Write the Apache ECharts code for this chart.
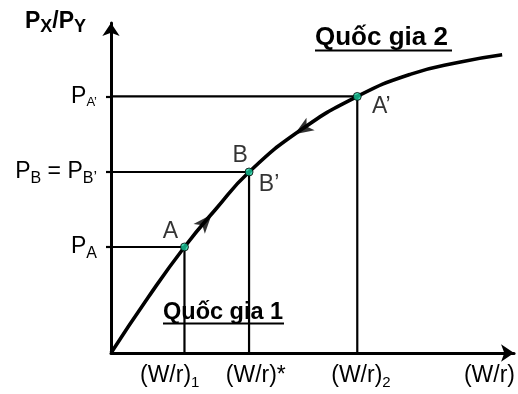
<!DOCTYPE html>
<html><head><meta charset="utf-8">
<script src="https://cdn.jsdelivr.net/npm/echarts@6/dist/echarts.min.js"></script>
<style>html,body{margin:0;padding:0;background:#fff}#c{width:518px;height:394px}</style>
</head><body><div id="c"></div>
<script>
// Curve, in chart units
const curveX = [0, 9.26, 18.52, 26.5, 34.8, 47.8, 62.08, 75.6, 88.1, 98.6];
const curveY = [0, 17.0, 32.77, 44.6, 55.95, 68.9, 79.3, 86.2, 89.95, 92.2];
// Marked points A, B, A'
const pointNames = ['A', 'B', 'A’'];
const pointX = [18.52, 34.8, 62.08];
const pointY = [32.77, 55.95, 79.3];
const extraName = 'B’';
// Direction arrows on the curve
const arrowX = [23.8, 48.3];
const arrowY = [40.6, 69.2];
const arrowRotate = [-41, 123];
// Tick labels
const xTickValues = [14.8, 36.5, 63.0, 95.4];
const xTickLabels = ['(W/r){s|1}', '(W/r)*', '(W/r){s|2}', '(W/r)'];
const yTickValues = [32.77, 55.95, 79.3];
const yTickLabels = ['P{s|A}', 'P{s|B} = P{s|B’}', 'P{t|A’}'];
const yAxisTitle = 'P{s|X}/P{s|Y}';
const country1 = 'Quốc gia 1';
const country2 = 'Quốc gia 2';

const FF = '"Liberation Sans", Arial, Helvetica, sans-serif';
const ARROW = 'path://M0,16 L6,0 L12,16 L6,12 Z';
const chart = echarts.init(document.getElementById('c'));

const guideSeries = pointX.map((x, i) => ({
  type: 'line', silent: true, symbol: 'none', z: 2, animation: false,
  lineStyle: { color: '#000', width: 2.2 },
  data: [[0, pointY[i]], [x, pointY[i]], [x, 0]]
}));

chart.setOption({
  animation: false,
  title: {
    text: yAxisTitle, left: 25, top: 8, padding: 0,
    textStyle: {
      fontFamily: FF, fontWeight: 'bold', fontSize: 23, color: '#000',
      rich: { s: { fontFamily: FF, fontWeight: 'bold', fontSize: 18, color: '#000', padding: [10, 0, 0, 0] } }
    }
  },
  grid: { left: 111, right: 1, top: 23, bottom: 41 },
  xAxis: {
    type: 'value', min: 0, max: 101.6,
    axisLine: { show: true, symbol: ['none', 'arrow'], symbolSize: [13, 13], lineStyle: { color: '#000', width: 3 } },
    axisTick: { show: false },
    splitLine: { show: false },
    axisLabel: {
      customValues: xTickValues,
      formatter: v => xTickLabels[xTickValues.indexOf(v)],
      fontFamily: FF, fontSize: 23, color: '#000', margin: 8, lineHeight: 29,
      rich: { s: { fontFamily: FF, fontSize: 15, color: '#000', padding: [14, 0, 0, 0] } }
    }
  },
  yAxis: {
    type: 'value', min: 0, max: 102.0,
    axisLine: { show: true, symbol: ['none', 'arrow'], symbolSize: [13, 13], lineStyle: { color: '#000', width: 3 } },
    axisTick: { show: true, customValues: yTickValues, length: 5, lineStyle: { color: '#000', width: 2.2 } },
    splitLine: { show: false },
    axisLabel: {
      customValues: yTickValues,
      formatter: v => yTickLabels[yTickValues.indexOf(v)],
      fontFamily: FF, fontSize: 23, color: '#000', margin: 14, lineHeight: 29,
      rich: {
        s: { fontFamily: FF, fontSize: 16, color: '#000', padding: [14, 0, 0, 0] },
        t: { fontFamily: FF, fontSize: 13, color: '#000', padding: [12, 0, 0, 0] }
      }
    }
  },
  graphic: [
    { type: 'text', x: 315, y: 37.9, z: 10, style: { text: country2, font: 'bold 26px ' + FF, fill: '#000', verticalAlign: 'middle' } },
    { type: 'rect', shape: { x: 315, y: 49.5, width: 137, height: 2 }, style: { fill: '#000' } },
    { type: 'text', x: 163, y: 312.7, z: 10, style: { text: country1, font: 'bold 23.5px ' + FF, fill: '#000', verticalAlign: 'middle' } },
    { type: 'rect', shape: { x: 163, y: 322.5, width: 121, height: 2 }, style: { fill: '#000' } }
  ],
  series: [
    ...guideSeries,
    {
      type: 'line', smooth: 0.5, symbol: 'none', z: 3, silent: true,
      lineStyle: { color: '#000', width: 3.6 },
      data: curveX.map((x, i) => [x, curveY[i]])
    },
    {
      type: 'scatter', symbol: ARROW, symbolSize: [15, 19], z: 4, silent: true,
      itemStyle: { color: '#000' },
      data: arrowX.map((x, i) => ({ value: [x, arrowY[i]], symbolRotate: arrowRotate[i] }))
    },
    {
      type: 'scatter', symbolSize: 8, z: 5, silent: true,
      itemStyle: { color: '#17c99b', borderColor: '#000', borderWidth: 1 },
      label: { show: true, position: 'inside', fontFamily: FF, fontSize: 23, color: '#000', formatter: p => p.name },
      data: pointX.map((x, i) => ({
        name: pointNames[i], value: [x, pointY[i]],
        label: { offset: [[-14, -15], [-9, -16], [24, 10]][i] }
      }))
    },
    {
      type: 'scatter', symbolSize: 0, z: 5, silent: true,
      label: { show: true, position: 'inside', fontFamily: FF, fontSize: 23, color: '#000', formatter: p => p.name, offset: [20, 13] },
      data: [{ name: extraName, value: [pointX[1], pointY[1]] }]
    }
  ]
});
</script></body></html>
